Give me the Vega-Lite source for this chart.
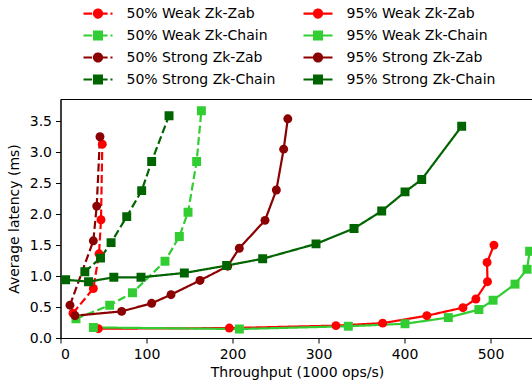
{
  "$schema": "https://vega.github.io/schema/vega-lite/v6.json",
  "width": 473,
  "height": 239,
  "autosize": {"type": "none"},
  "padding": {"left": 60.5, "top": 99, "right": 0, "bottom": 45},
  "config": {
    "font": "DejaVu Sans",
    "view": {"stroke": "black", "strokeWidth": 1},
    "axis": {
      "domainColor": "black", "tickColor": "black", "labelColor": "black", "titleColor": "black",
      "labelFontSize": 14, "titleFontSize": 14, "titleFontWeight": "normal", "grid": false,
      "tickSize": 5, "labelPadding": 4, "domainWidth": 1, "tickWidth": 1
    }
  },
  "data": {"values": [
    {"s": "50% Weak Zk-Zab", "p": "50%", "t": "Zab", "i": 0, "x": 14.5, "y": 0.40},
    {"s": "50% Weak Zk-Zab", "p": "50%", "t": "Zab", "i": 1, "x": 38.2, "y": 0.80},
    {"s": "50% Weak Zk-Zab", "p": "50%", "t": "Zab", "i": 2, "x": 44.8, "y": 1.36},
    {"s": "50% Weak Zk-Zab", "p": "50%", "t": "Zab", "i": 3, "x": 47.1, "y": 1.91},
    {"s": "50% Weak Zk-Zab", "p": "50%", "t": "Zab", "i": 4, "x": 48.6, "y": 3.13},
    {"s": "50% Weak Zk-Chain", "p": "50%", "t": "Chain", "i": 0, "x": 18, "y": 0.31},
    {"s": "50% Weak Zk-Chain", "p": "50%", "t": "Chain", "i": 1, "x": 57.2, "y": 0.53},
    {"s": "50% Weak Zk-Chain", "p": "50%", "t": "Chain", "i": 2, "x": 83.7, "y": 0.73},
    {"s": "50% Weak Zk-Chain", "p": "50%", "t": "Chain", "i": 3, "x": 121.5, "y": 1.24},
    {"s": "50% Weak Zk-Chain", "p": "50%", "t": "Chain", "i": 4, "x": 138.2, "y": 1.64},
    {"s": "50% Weak Zk-Chain", "p": "50%", "t": "Chain", "i": 5, "x": 148.3, "y": 2.03},
    {"s": "50% Weak Zk-Chain", "p": "50%", "t": "Chain", "i": 6, "x": 158.3, "y": 2.85},
    {"s": "50% Weak Zk-Chain", "p": "50%", "t": "Chain", "i": 7, "x": 163.8, "y": 3.67},
    {"s": "50% Strong Zk-Zab", "p": "50%", "t": "Zab", "i": 0, "x": 11, "y": 0.53},
    {"s": "50% Strong Zk-Zab", "p": "50%", "t": "Zab", "i": 1, "x": 38.2, "y": 1.57},
    {"s": "50% Strong Zk-Zab", "p": "50%", "t": "Zab", "i": 2, "x": 42.1, "y": 2.13},
    {"s": "50% Strong Zk-Zab", "p": "50%", "t": "Zab", "i": 3, "x": 45.9, "y": 3.25},
    {"s": "50% Strong Zk-Chain", "p": "50%", "t": "Chain", "i": 0, "x": 28.3, "y": 1.07},
    {"s": "50% Strong Zk-Chain", "p": "50%", "t": "Chain", "i": 1, "x": 46.5, "y": 1.29},
    {"s": "50% Strong Zk-Chain", "p": "50%", "t": "Chain", "i": 2, "x": 58.8, "y": 1.54},
    {"s": "50% Strong Zk-Chain", "p": "50%", "t": "Chain", "i": 3, "x": 77, "y": 1.96},
    {"s": "50% Strong Zk-Chain", "p": "50%", "t": "Chain", "i": 4, "x": 94.4, "y": 2.38},
    {"s": "50% Strong Zk-Chain", "p": "50%", "t": "Chain", "i": 5, "x": 106, "y": 2.85},
    {"s": "50% Strong Zk-Chain", "p": "50%", "t": "Chain", "i": 6, "x": 126.2, "y": 3.59},
    {"s": "95% Weak Zk-Zab", "p": "95%", "t": "Zab", "i": 0, "x": 44, "y": 0.15},
    {"s": "95% Weak Zk-Zab", "p": "95%", "t": "Zab", "i": 1, "x": 196.3, "y": 0.16},
    {"s": "95% Weak Zk-Zab", "p": "95%", "t": "Zab", "i": 2, "x": 320.3, "y": 0.20},
    {"s": "95% Weak Zk-Zab", "p": "95%", "t": "Zab", "i": 3, "x": 374.6, "y": 0.24},
    {"s": "95% Weak Zk-Zab", "p": "95%", "t": "Zab", "i": 4, "x": 426, "y": 0.36},
    {"s": "95% Weak Zk-Zab", "p": "95%", "t": "Zab", "i": 5, "x": 468, "y": 0.49},
    {"s": "95% Weak Zk-Zab", "p": "95%", "t": "Zab", "i": 6, "x": 483, "y": 0.63},
    {"s": "95% Weak Zk-Zab", "p": "95%", "t": "Zab", "i": 7, "x": 496.5, "y": 0.91},
    {"s": "95% Weak Zk-Zab", "p": "95%", "t": "Zab", "i": 8, "x": 496, "y": 1.22},
    {"s": "95% Weak Zk-Zab", "p": "95%", "t": "Zab", "i": 9, "x": 504, "y": 1.50},
    {"s": "95% Weak Zk-Chain", "p": "95%", "t": "Chain", "i": 0, "x": 38.2, "y": 0.17},
    {"s": "95% Weak Zk-Chain", "p": "95%", "t": "Chain", "i": 1, "x": 208, "y": 0.145},
    {"s": "95% Weak Zk-Chain", "p": "95%", "t": "Chain", "i": 2, "x": 334.7, "y": 0.19},
    {"s": "95% Weak Zk-Chain", "p": "95%", "t": "Chain", "i": 3, "x": 400.6, "y": 0.23},
    {"s": "95% Weak Zk-Chain", "p": "95%", "t": "Chain", "i": 4, "x": 451, "y": 0.33},
    {"s": "95% Weak Zk-Chain", "p": "95%", "t": "Chain", "i": 5, "x": 486.5, "y": 0.46},
    {"s": "95% Weak Zk-Chain", "p": "95%", "t": "Chain", "i": 6, "x": 503, "y": 0.61},
    {"s": "95% Weak Zk-Chain", "p": "95%", "t": "Chain", "i": 7, "x": 528.5, "y": 0.87},
    {"s": "95% Weak Zk-Chain", "p": "95%", "t": "Chain", "i": 8, "x": 542.5, "y": 1.11},
    {"s": "95% Weak Zk-Chain", "p": "95%", "t": "Chain", "i": 9, "x": 545.5, "y": 1.40},
    {"s": "95% Strong Zk-Zab", "p": "95%", "t": "Zab", "i": 0, "x": 16.9, "y": 0.36},
    {"s": "95% Strong Zk-Zab", "p": "95%", "t": "Zab", "i": 1, "x": 71.1, "y": 0.43},
    {"s": "95% Strong Zk-Zab", "p": "95%", "t": "Zab", "i": 2, "x": 106, "y": 0.56},
    {"s": "95% Strong Zk-Zab", "p": "95%", "t": "Zab", "i": 3, "x": 128.5, "y": 0.70},
    {"s": "95% Strong Zk-Zab", "p": "95%", "t": "Zab", "i": 4, "x": 162.2, "y": 0.93},
    {"s": "95% Strong Zk-Zab", "p": "95%", "t": "Zab", "i": 5, "x": 194.4, "y": 1.16},
    {"s": "95% Strong Zk-Zab", "p": "95%", "t": "Zab", "i": 6, "x": 207.9, "y": 1.45},
    {"s": "95% Strong Zk-Zab", "p": "95%", "t": "Zab", "i": 7, "x": 237.8, "y": 1.90},
    {"s": "95% Strong Zk-Zab", "p": "95%", "t": "Zab", "i": 8, "x": 251, "y": 2.39},
    {"s": "95% Strong Zk-Zab", "p": "95%", "t": "Zab", "i": 9, "x": 259.5, "y": 3.05},
    {"s": "95% Strong Zk-Zab", "p": "95%", "t": "Zab", "i": 10, "x": 264.3, "y": 3.54},
    {"s": "95% Strong Zk-Chain", "p": "95%", "t": "Chain", "i": 0, "x": 6, "y": 0.94},
    {"s": "95% Strong Zk-Chain", "p": "95%", "t": "Chain", "i": 1, "x": 32.6, "y": 0.91},
    {"s": "95% Strong Zk-Chain", "p": "95%", "t": "Chain", "i": 2, "x": 62, "y": 0.98},
    {"s": "95% Strong Zk-Chain", "p": "95%", "t": "Chain", "i": 3, "x": 93.6, "y": 0.98},
    {"s": "95% Strong Zk-Chain", "p": "95%", "t": "Chain", "i": 4, "x": 144, "y": 1.05},
    {"s": "95% Strong Zk-Chain", "p": "95%", "t": "Chain", "i": 5, "x": 193.2, "y": 1.17},
    {"s": "95% Strong Zk-Chain", "p": "95%", "t": "Chain", "i": 6, "x": 235.1, "y": 1.28},
    {"s": "95% Strong Zk-Chain", "p": "95%", "t": "Chain", "i": 7, "x": 297.1, "y": 1.52},
    {"s": "95% Strong Zk-Chain", "p": "95%", "t": "Chain", "i": 8, "x": 341.3, "y": 1.77},
    {"s": "95% Strong Zk-Chain", "p": "95%", "t": "Chain", "i": 9, "x": 373.5, "y": 2.05},
    {"s": "95% Strong Zk-Chain", "p": "95%", "t": "Chain", "i": 10, "x": 400.6, "y": 2.36},
    {"s": "95% Strong Zk-Chain", "p": "95%", "t": "Chain", "i": 11, "x": 420, "y": 2.56},
    {"s": "95% Strong Zk-Chain", "p": "95%", "t": "Chain", "i": 12, "x": 466.5, "y": 3.42}
  ]},
  "encoding": {
    "x": {"field": "x", "type": "quantitative", "scale": {"domain": [0, 550], "nice": false, "zero": false},
      "axis": {"values": [0, 100, 200, 300, 400, 500], "format": "d", "title": "Throughput (1000 ops/s)", "titlePadding": 4}},
    "y": {"field": "y", "type": "quantitative", "scale": {"domain": [0, 3.86], "nice": false},
      "axis": {"values": [0, 0.5, 1, 1.5, 2, 2.5, 3, 3.5], "format": ".1f", "title": "Average latency (ms)", "titlePadding": 8}},
    "color": {"field": "s", "type": "nominal",
      "scale": {
        "domain": ["50% Weak Zk-Zab", "50% Weak Zk-Chain", "50% Strong Zk-Zab", "50% Strong Zk-Chain", "95% Weak Zk-Zab", "95% Weak Zk-Chain", "95% Strong Zk-Zab", "95% Strong Zk-Chain"],
        "range": ["#ff0000", "#32cd32", "#8b0000", "#006400", "#ff0000", "#32cd32", "#8b0000", "#006400"]
      },
      "legend": {
        "orient": "none", "legendX": 26, "legendY": -97, "columns": 2, "title": null,
        "symbolSize": 400, "labelFontSize": 14, "labelColor": "black", "labelOffset": 17,
        "rowPadding": 2, "columnPadding": 23, "symbolStrokeWidth": 2.2,
        "encode": {
          "symbols": {
            "update": {
              "shape": {"signal": "indexof(datum.value,'Chain')>=0 ? (indexof(datum.value,'50%')>=0 ? 'M-1.45,0H-0.59M0,0H0.96M1.25,0H1.45M-0.39,-0.39H0.39V0.39H-0.39Z' : 'M-1.45,0H1.45M-0.39,-0.39H0.39V0.39H-0.39Z') : (indexof(datum.value,'50%')>=0 ? 'M-1.45,0H-0.59M0,0H0.96M1.25,0H1.45M-0.4,0A0.4,0.4 0 1,0 0.4,0A0.4,0.4 0 1,0 -0.4,0Z' : 'M-1.45,0H1.45M-0.4,0A0.4,0.4 0 1,0 0.4,0A0.4,0.4 0 1,0 -0.4,0Z')"},
              "fill": {"scale": "color", "field": "value"},
              "stroke": {"scale": "color", "field": "value"},
              "strokeWidth": {"value": 2.2},
              "strokeDash": {"value": [1, 0]},
              "opacity": {"value": 1}
            }
          }
        }
      }
    }
  },
  "layer": [
    {
      "mark": {"type": "line", "strokeWidth": 2.2, "clip": true},
      "encoding": {
        "order": {"field": "i", "type": "quantitative"},
        "strokeDash": {"field": "p", "type": "nominal",
          "scale": {"domain": ["50%", "95%"], "range": [[8, 3.5], [1, 0]]},
          "legend": null}
      }
    },
    {
      "mark": {"type": "point", "filled": true, "size": 80, "opacity": 1, "clip": true},
      "encoding": {
        "shape": {"field": "t", "type": "nominal",
          "scale": {"domain": ["Zab", "Chain"], "range": ["circle", "square"]},
          "legend": null}
      }
    }
  ]
}
